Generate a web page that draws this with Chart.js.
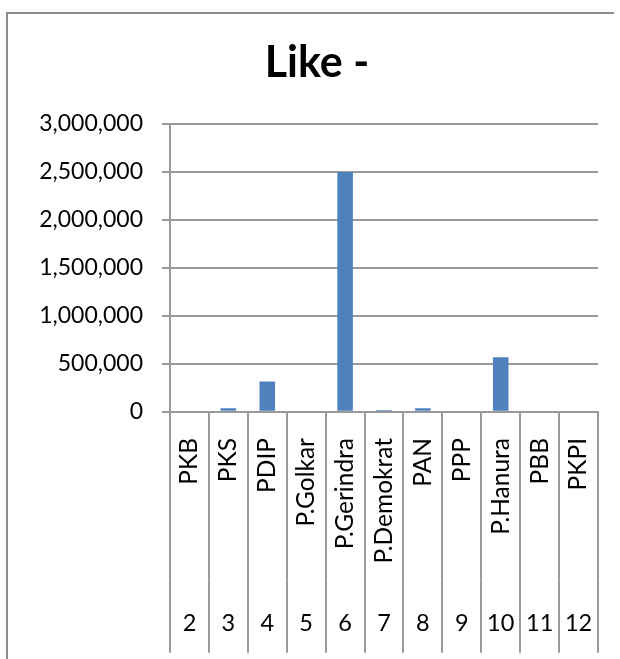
<!DOCTYPE html>
<html>
<head>
<meta charset="utf-8">
<script src="https://cdn.jsdelivr.net/npm/chart.js@4"></script>
<style>
  html, body { margin: 0; padding: 0; background: #fff; overflow: hidden; }
  canvas { display: block; }
</style>
</head>
<body>
<canvas id="c" width="620" height="659"></canvas>
<script>
const chartTitle = 'Like -';
const parties = ['PKB', 'PKS', 'PDIP', 'P.Golkar', 'P.Gerindra', 'P.Demokrat', 'PAN', 'PPP', 'P.Hanura', 'PBB', 'PKPI'];
const partyNumbers = ['2', '3', '4', '5', '6', '7', '8', '9', '10', '11', '12'];
const likes = [0, 36000, 315000, 9000, 2500000, 18000, 36000, 0, 568000, 0, 0];
const yMin = 0;
const yMax = 3000000;
const yStep = 500000;

const FONT = 'Lato, "Open Sans", sans-serif';
const GRID = '#9a9a9a';

// Chart-area frame: left edge and top edge (the original is cropped on the right and bottom)
const framePlugin = {
  id: 'frame',
  beforeDraw(chart) {
    const ctx = chart.ctx;
    ctx.save();
    ctx.strokeStyle = '#8c8c8c';
    ctx.lineWidth = 2;
    ctx.beginPath();
    ctx.moveTo(7, chart.height);
    ctx.lineTo(7, 13);
    ctx.lineTo(614, 13);
    ctx.stroke();
    ctx.restore();
  }
};

new Chart(document.getElementById('c'), {
  type: 'bar',
  data: {
    labels: parties,
    datasets: [{
      data: likes,
      backgroundColor: '#4f81bd',
      borderWidth: 0,
      categoryPercentage: 1.0,
      barPercentage: 0.4,
      xAxisID: 'x',
      yAxisID: 'y'
    }]
  },
  plugins: [framePlugin],
  options: {
    responsive: false,
    animation: false,
    devicePixelRatio: 1,
    layout: { padding: { left: 36, right: 22, top: 0, bottom: 6.3 } },
    plugins: {
      legend: { display: false },
      tooltip: { enabled: false },
      title: {
        display: true,
        text: chartTitle,
        color: '#000',
        font: { family: FONT, size: 43, weight: 'bold', lineHeight: 1.2 },
        padding: { top: 37, bottom: 35.4 }
      }
    },
    scales: {
      y: {
        min: yMin,
        max: yMax,
        ticks: {
          stepSize: yStep,
          color: '#000',
          font: { family: FONT, size: 23 },
          padding: 19,
          callback: v => Number(v).toLocaleString('en-US')
        },
        grid: { color: GRID, lineWidth: 2, tickLength: 8, drawTicks: true },
        border: { display: true, color: GRID, width: 2 },
        afterFit: s => { s.width = 134; }
      },
      x: {
        type: 'category',
        position: 'bottom',
        weight: 0,
        offset: true,
        ticks: {
          color: '#000',
          font: { family: FONT, size: 24.5 },
          minRotation: 90,
          maxRotation: 90,
          autoSkip: false,
          padding: -142.7
        },
        grid: { offset: true, drawOnChartArea: false, drawTicks: true, tickLength: 169, color: GRID, lineWidth: 2 },
        border: { display: true, color: GRID, width: 2 },
        afterFit: s => { s.height = 169; }
      },
      x2: {
        type: 'category',
        position: 'bottom',
        weight: 1,
        labels: partyNumbers,
        offset: true,
        ticks: {
          color: '#000',
          font: { family: FONT, size: 23.5 },
          maxRotation: 0,
          minRotation: 0,
          autoSkip: false,
          padding: -43.5
        },
        grid: { offset: true, drawOnChartArea: false, drawTicks: true, tickLength: 72, color: GRID, lineWidth: 2 },
        border: { display: false },
        afterFit: s => { s.height = 72; }
      }
    }
  }
});
</script>
</body>
</html>
